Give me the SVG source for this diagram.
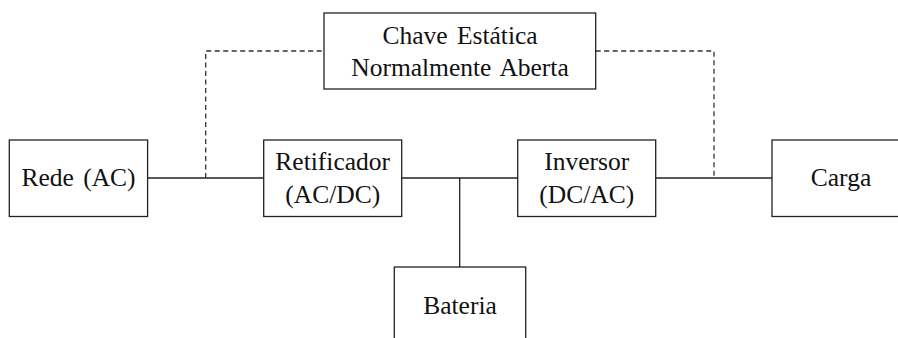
<svg xmlns="http://www.w3.org/2000/svg" width="898" height="338" viewBox="0 0 898 338">
<style>
.box{fill:#fff;stroke:#222;stroke-width:1.3}
.t{font-family:"Liberation Serif","Times New Roman",serif;font-size:25.5px;word-spacing:3px;fill:#111;text-anchor:middle}
.w{fill:none;stroke:#222;stroke-width:1.3}
.d{fill:none;stroke:#333;stroke-width:1.3;stroke-dasharray:5 3.5}
</style>
<rect width="898" height="338" fill="#fff"/>
<g id="connectors">
<path class="w" d="M147.6 178H263.7M401.7 178H517.7M655.7 178H772M459.7 178V267"/>
<path class="d" d="M205.7 178V51H324M595.7 51H714V178"/>
</g>
<g id="chave"><rect class="box" x="324" y="13" width="271.7" height="76"/><text class="t" x="460" y="43.5">Chave Estática</text><text class="t" x="460" y="76">Normalmente Aberta</text></g>
<g id="rede"><rect class="box" x="9.3" y="140" width="138.3" height="76.5"/><text class="t" x="78.5" y="186">Rede (AC)</text></g>
<g id="retificador"><rect class="box" x="263.7" y="140" width="138" height="76.5"/><text class="t" x="332.7" y="169.5">Retificador</text><text class="t" x="332.7" y="203">(AC/DC)</text></g>
<g id="inversor"><rect class="box" x="517.7" y="140" width="138" height="76.5"/><text class="t" x="586.7" y="169.5">Inversor</text><text class="t" x="586.7" y="203">(DC/AC)</text></g>
<g id="carga"><rect class="box" x="772" y="140" width="138" height="76.5"/><text class="t" x="841" y="186">Carga</text></g>
<g id="bateria"><rect class="box" x="394.3" y="267" width="131.4" height="76.5"/><text class="t" x="460" y="313.5">Bateria</text></g>
</svg>
